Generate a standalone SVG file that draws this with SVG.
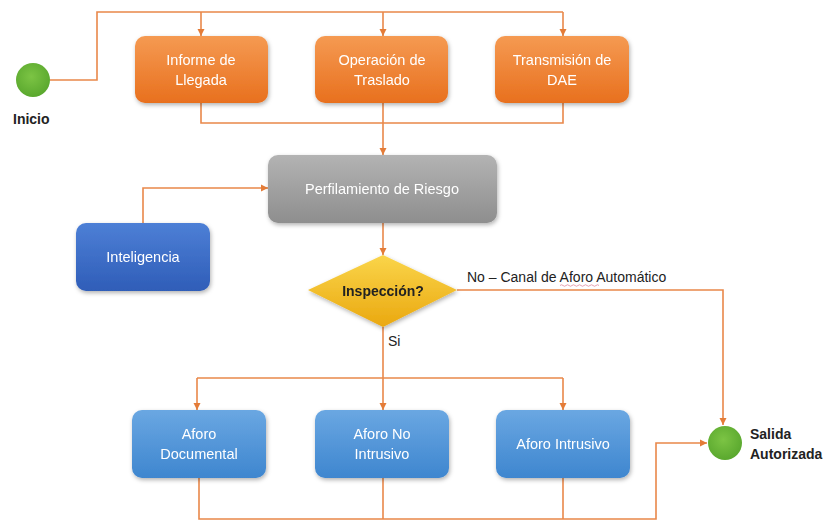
<svg xmlns="http://www.w3.org/2000/svg" width="826" height="520" viewBox="0 0 826 520">
<defs>
<linearGradient id="gOr" x1="0" y1="0" x2="0" y2="1"><stop offset="0" stop-color="#f59a52"/><stop offset="1" stop-color="#e8701e"/></linearGradient>
<linearGradient id="gGr" x1="0" y1="0" x2="0" y2="1"><stop offset="0" stop-color="#b3b3b3"/><stop offset="1" stop-color="#8e8e8e"/></linearGradient>
<linearGradient id="gBl" x1="0" y1="0" x2="0" y2="1"><stop offset="0" stop-color="#4d7fd6"/><stop offset="1" stop-color="#2f5db8"/></linearGradient>
<linearGradient id="gLb" x1="0" y1="0" x2="0" y2="1"><stop offset="0" stop-color="#6aa7e2"/><stop offset="1" stop-color="#3e86cf"/></linearGradient>
<linearGradient id="gYe" x1="0" y1="0" x2="0" y2="1"><stop offset="0" stop-color="#fad54a"/><stop offset="1" stop-color="#eaa810"/></linearGradient>
<radialGradient id="gGn" cx="0.45" cy="0.4" r="0.6"><stop offset="0" stop-color="#7cc444"/><stop offset="1" stop-color="#5aa82e"/></radialGradient>
<filter id="sh" x="-10%" y="-10%" width="125%" height="130%"><feDropShadow dx="1" dy="2" stdDeviation="2" flood-color="#000" flood-opacity="0.3"/></filter>
<marker id="ar" markerWidth="8" markerHeight="8" refX="7" refY="4" orient="auto" markerUnits="userSpaceOnUse"><path d="M0,0.5 L7,4 L0,7.5 Z" fill="#e47c38"/></marker>
<style>
.ln{fill:none;stroke:#e9884a;stroke-width:1.6}
.bx{filter:url(#sh)}
.wt{font-family:"Liberation Sans",Arial,sans-serif;font-size:14.5px;fill:#fff;text-anchor:middle}
.dk{font-family:"Liberation Sans",Arial,sans-serif;font-size:14px;fill:#222;font-weight:bold}
.lb{font-family:"Liberation Sans",Arial,sans-serif;font-size:14px;fill:#222}
</style>
</defs>
<rect width="826" height="520" fill="#fff"/>
<g id="connectors">
<path class="ln" d="M50,80 H97 V12 H563"/>
<path class="ln" d="M201,12 V36" marker-end="url(#ar)"/>
<path class="ln" d="M383,12 V36" marker-end="url(#ar)"/>
<path class="ln" d="M563,12 V36" marker-end="url(#ar)"/>
<path class="ln" d="M201,103 V123 H563 V103"/>
<path class="ln" d="M383,103 V155" marker-end="url(#ar)"/>
<path class="ln" d="M143,223 V188 H268" marker-end="url(#ar)"/>
<path class="ln" d="M383,223 V255" marker-end="url(#ar)"/>
<path class="ln" d="M457,290 H723 V425" marker-end="url(#ar)"/>
<path class="ln" d="M383,327 V410" marker-end="url(#ar)"/>
<path class="ln" d="M197,378 H563"/>
<path class="ln" d="M197,378 V410" marker-end="url(#ar)"/>
<path class="ln" d="M563,378 V410" marker-end="url(#ar)"/>
<path class="ln" d="M199,478 V519 H656 V443 H707" marker-end="url(#ar)"/>
<path class="ln" d="M383,478 V519"/>
<path class="ln" d="M563,478 V519"/>
</g>
<g id="inicio">
<circle cx="33" cy="80" r="17" fill="url(#gGn)"/>
<text class="dk" x="13" y="124">Inicio</text>
</g>
<g id="informe" class="bx">
<rect x="135" y="36" width="133" height="67" rx="10" fill="url(#gOr)"/>
<text class="wt" x="201" y="65">Informe de</text>
<text class="wt" x="201" y="85">Llegada</text>
</g>
<g id="operacion" class="bx">
<rect x="315" y="36" width="133" height="67" rx="10" fill="url(#gOr)"/>
<text class="wt" x="382" y="65">Operación de</text>
<text class="wt" x="382" y="85">Traslado</text>
</g>
<g id="transmision" class="bx">
<rect x="495" y="36" width="134" height="67" rx="10" fill="url(#gOr)"/>
<text class="wt" x="562" y="65">Transmisión de</text>
<text class="wt" x="562" y="85">DAE</text>
</g>
<g id="perfilamiento" class="bx">
<rect x="268" y="155" width="229" height="68" rx="10" fill="url(#gGr)"/>
<text class="wt" x="382" y="194">Perfilamiento de Riesgo</text>
</g>
<g id="inteligencia" class="bx">
<rect x="76" y="223" width="134" height="68" rx="10" fill="url(#gBl)"/>
<text class="wt" x="143" y="262">Inteligencia</text>
</g>
<g id="inspeccion" class="bx">
<polygon points="383,255 457,290 383,327 308,290" fill="url(#gYe)"/>
<text class="dk" x="383" y="296" text-anchor="middle">Inspección?</text>
</g>
<text class="lb" x="467" y="282">No – Canal de Aforo Automático</text>
<path d="M560,285.5 q1.5,-1.5 3,0 t3,0 t3,0 t3,0 t3,0 t3,0 t3,0 t3,0 t3,0 t3,0 t3,0 t3,0 t3,0" fill="none" stroke="#e08aa0" stroke-width="0.8"/>
<text class="lb" x="388" y="346">Si</text>
<g id="documental" class="bx">
<rect x="132" y="410" width="134" height="68" rx="10" fill="url(#gLb)"/>
<text class="wt" x="199" y="439">Aforo</text>
<text class="wt" x="199" y="459">Documental</text>
</g>
<g id="nointrusivo" class="bx">
<rect x="315" y="410" width="134" height="68" rx="10" fill="url(#gLb)"/>
<text class="wt" x="382" y="439">Aforo No</text>
<text class="wt" x="382" y="459">Intrusivo</text>
</g>
<g id="intrusivo" class="bx">
<rect x="496" y="410" width="134" height="68" rx="10" fill="url(#gLb)"/>
<text class="wt" x="563" y="449">Aforo Intrusivo</text>
</g>
<g id="salida">
<circle cx="725" cy="443" r="17" fill="url(#gGn)"/>
<text class="dk" x="750" y="439">Salida</text>
<text class="dk" x="750" y="459">Autorizada</text>
</g>
</svg>
